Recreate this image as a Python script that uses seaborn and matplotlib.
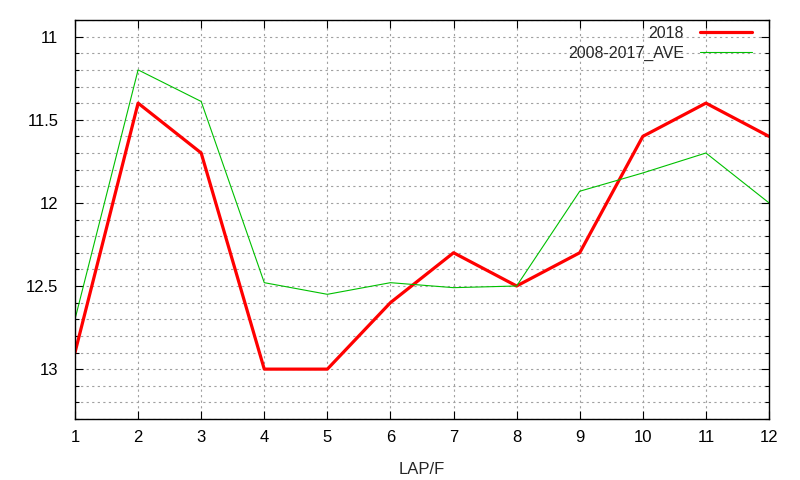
import matplotlib
matplotlib.use("Agg")
import matplotlib.pyplot as plt
import seaborn as sns
from matplotlib.ticker import MultipleLocator, FuncFormatter

laps = [1, 2, 3, 4, 5, 6, 7, 8, 9, 10, 11, 12]
y2018 = [12.9, 11.4, 11.7, 13.0, 13.0, 12.6, 12.3, 12.5, 12.3, 11.6, 11.4, 11.6]
yave = [12.7, 11.2, 11.39, 12.48, 12.55, 12.48, 12.51, 12.5, 11.93, 11.82, 11.7, 12.0]

sns.set_style("white")
plt.rcParams["font.family"] = ["Liberation Sans", "DejaVu Sans"]

fig = plt.figure(figsize=(8, 4.8), dpi=100)
ax = fig.add_axes([75 / 800, 61 / 480, 694 / 800, 399 / 480])

sns.lineplot(x=laps, y=y2018, color="#ff0000", linewidth=2.3, label="2018", ax=ax)
sns.lineplot(x=laps, y=yave, color="#00c000", linewidth=0.8, label="2008-2017_AVE", ax=ax)

ax.set_xlim(1, 12)
ax.set_ylim(13.3, 10.9)
ax.set_xticks(laps)
ax.yaxis.set_major_locator(MultipleLocator(0.5))
ax.yaxis.set_minor_locator(MultipleLocator(0.1))
ax.yaxis.set_major_formatter(FuncFormatter(lambda v, p: f"{v:g}"))

grid_kw = dict(color="#a0a0a0", linestyle=(0, (2, 3)), linewidth=0.8)
ax.grid(True, which="both", axis="y", **grid_kw)
ax.grid(True, which="major", axis="x", **grid_kw)
ax.set_axisbelow(True)

for s in ax.spines.values():
    s.set_color("black")
    s.set_linewidth(1)

ax.tick_params(axis="both", which="both", direction="in", top=True, right=True,
               bottom=True, left=True, labelsize=12, colors="black", width=0.8)
ax.tick_params(axis="both", which="major", length=6)
ax.tick_params(axis="x", which="major", pad=8)
ax.tick_params(axis="y", which="major", pad=12)
ax.tick_params(axis="y", which="minor", length=3)

ax.set_xlabel("LAP/F", fontsize=12, labelpad=12)
ax.set_ylabel("")

leg = ax.legend(loc="upper right", frameon=False, markerfirst=False, fontsize=11.5,
                handlelength=3.3, borderaxespad=0.2, labelspacing=0.3,
                handletextpad=1.0, bbox_to_anchor=(0.99, 1.01))

fig.savefig("out.png", dpi=100)
